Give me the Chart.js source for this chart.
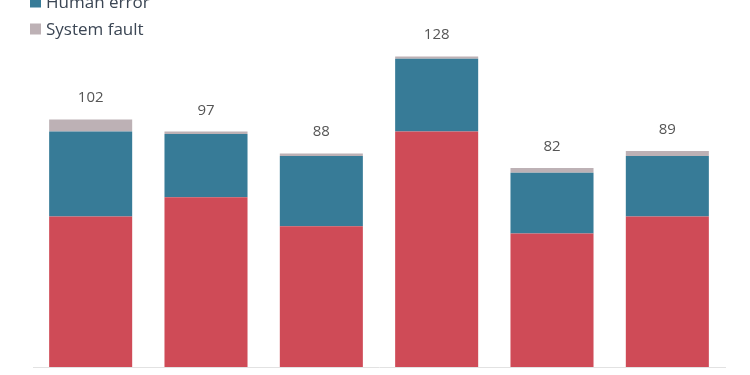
<!DOCTYPE html>
<html>
<head>
<meta charset="utf-8">
<script src="https://cdn.jsdelivr.net/npm/chart.js@4/dist/chart.umd.min.js"></script>
<style>
  html, body { margin: 0; padding: 0; background: #ffffff; overflow: hidden; }
  #wrap { position: relative; width: 750px; height: 375px; }
</style>
</head>
<body>
<div id="wrap"><canvas id="c" width="750" height="375"></canvas></div>
<script>
const categories = ['2013', '2014', '2015', '2016', '2017', '2018'];
const seriesNames = ['Criminal attack', 'Human error', 'System fault'];
const criminalAttack = [62, 70, 58, 97, 55, 62];
const humanError = [35, 26, 29, 30, 25, 25];
const systemFault = [5, 1, 1, 1, 2, 2];
const seriesColors = ['#cf4b57', '#377b97', '#bdb1b5'];

const totalsPlugin = {
  id: 'totals',
  afterDatasetsDraw(chart) {
    const ctx = chart.ctx;
    const n = chart.data.labels.length;
    const lastMeta = chart.getDatasetMeta(chart.data.datasets.length - 1);
    ctx.save();
    ctx.font = '15px "Open Sans", sans-serif';
    ctx.fillStyle = '#555555';
    ctx.textAlign = 'center';
    ctx.textBaseline = 'alphabetic';
    for (let i = 0; i < n; i++) {
      let total = 0;
      chart.data.datasets.forEach(ds => { total += ds.data[i]; });
      const el = lastMeta.data[i];
      ctx.fillText(String(total), el.x, el.y - 17);
    }
    ctx.restore();
  }
};

const vLegendPlugin = {
  id: 'vlegend',
  afterDraw(chart, args, opts) {
    const ctx = chart.ctx;
    ctx.save();
    ctx.font = '17px "Open Sans", sans-serif';
    ctx.textBaseline = 'middle';
    ctx.textAlign = 'left';
    chart.data.datasets.forEach((ds, i) => {
      const cy = opts.firstY + i * opts.step;
      ctx.fillStyle = ds.backgroundColor;
      ctx.fillRect(opts.x, cy - opts.box / 2, opts.box, opts.box);
      ctx.fillStyle = '#3b4654';
      ctx.fillText(ds.label, opts.x + 16, cy + 1);
    });
    ctx.restore();
  }
};

new Chart(document.getElementById('c'), {
  type: 'bar',
  data: {
    labels: categories,
    datasets: [
      { label: seriesNames[0], data: criminalAttack, backgroundColor: seriesColors[0] },
      { label: seriesNames[1], data: humanError, backgroundColor: seriesColors[1] },
      { label: seriesNames[2], data: systemFault, backgroundColor: seriesColors[2] }
    ]
  },
  options: {
    responsive: false,
    animation: false,
    layout: { padding: { left: 33, right: 25, top: 3, bottom: 8 } },
    datasets: { bar: { categoryPercentage: 0.8, barPercentage: 0.9, borderWidth: 0 } },
    scales: {
      x: {
        stacked: true,
        grid: { display: false, drawTicks: false },
        ticks: { display: false },
        border: { display: true, color: '#e2e2e2', width: 1 }
      },
      y: {
        stacked: true,
        display: false,
        min: 0,
        max: 150
      }
    },
    plugins: {
      legend: { display: false },
      tooltip: { enabled: false },
      vlegend: { x: 30, firstY: -25, step: 27, box: 11 }
    }
  },
  plugins: [totalsPlugin, vLegendPlugin]
});
</script>
</body>
</html>
